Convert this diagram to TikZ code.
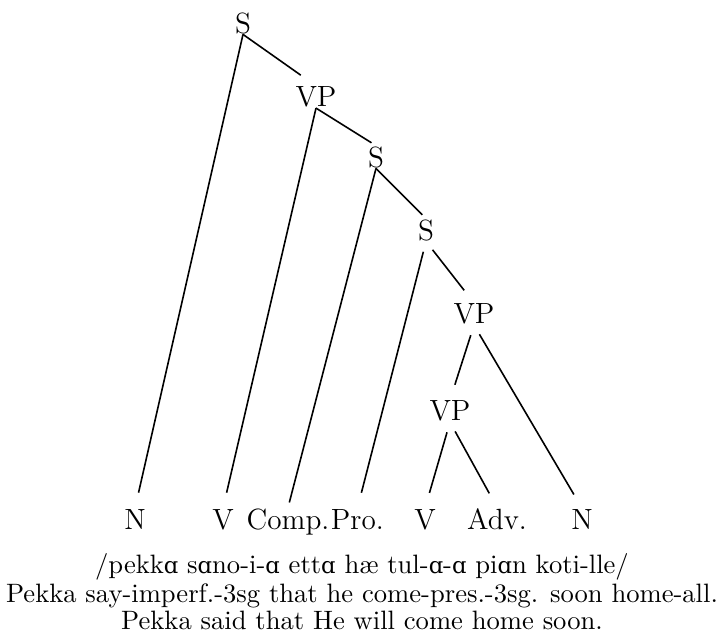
\documentclass[tikz,border=0pt]{standalone}
\usepackage{fontspec}
\newfontfamily\ipafont[Scale=0.85]{DejaVu Serif}
\newcommand{\scripta}{{\ipafont ɑ}}
\usetikzlibrary{positioning}

\begin{document}
\begin{tikzpicture}[x=0.376pt, y=-0.376pt, line width=0.6pt,
    cat/.style={font=\fontsize{11}{13}\selectfont, inner sep=0pt},
    leaf/.style={font=\fontsize{11}{13}\selectfont, inner sep=0pt, anchor=base},
    branch/.style={shorten >=6pt},
    low/.style={shorten <=4pt},
    gloss/.style={font=\normalsize, inner sep=0pt, anchor=base}]
  \useasboundingbox (0,0) rectangle (723,638);
  % ================================================================ phrase nodes
  \node[cat] (s1) at (243,23) {S};
  \node[cat] (vp1) at (316,97) {VP};
  \node[cat] (s2) at (376,157) {S};
  \node[cat] (s3) at (426,230) {S};
  \node[cat] (vp2) at (474,314) {VP};
  \node[cat] (vp3) at (450,411) {VP};
  % ================================================================ leaves
  \node[leaf] (n1) at (135,529) {N};
  \node[leaf] (v1) at (223,529) {V};
  \node[leaf] (comp) at (288,529) {Comp.};
  \node[leaf, base right=0pt of comp] (pro) {Pro.};
  \node[leaf] (v2) at (425,529) {V};
  \node[leaf] (adv) at (497,529) {Adv.};
  \node[leaf] (n2) at (582,529) {N};
  % ================================================================ branches
  \draw[branch] (s1.south) -- (n1.north);
  \draw[shorten >=7pt] (s1.south) -- (vp1.north);
  \draw[branch] (vp1.south) -- (v1.north);
  \draw[shorten >=2pt] (vp1.south) -- (s2.north);
  \draw[shorten >=2pt] (s2.south) -- (comp.north);
  \draw[shorten >=2pt] (s2.south) -- (s3.north);
  \draw[branch, low] (s3.south) -- (pro.north);
  \draw[branch, low] (s3.south) -- (vp2.north);
  \draw[branch, low] (vp2.south) -- (vp3.north);
  \draw[branch, low] (vp2.south) -- (n2.north);
  \draw[branch, low] (vp3.south) -- (v2.north);
  \draw[branch, low] (vp3.south) -- (adv.north);
  % ================================================================ gloss
  \node[gloss] (form) at (362,573) {/pekk\scripta{} s\scripta{}no-i-\scripta{} ett\scripta{} hæ tul-\scripta-\scripta{} pi\scripta{}n koti-lle/};
  \node[gloss] (morph) at (362,602) {Pekka say-imperf.-3sg that he come-pres.-3sg. soon home-all.};
  \node[gloss] (trans) at (362,629) {Pekka said that He will come home soon.};
\end{tikzpicture}
\end{document}
